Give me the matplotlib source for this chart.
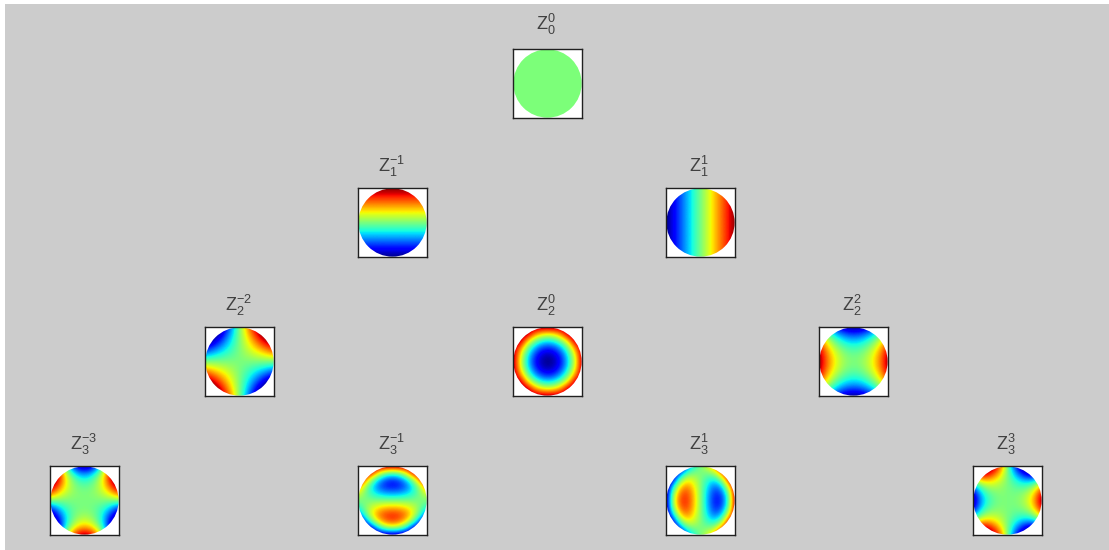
import numpy as np
import matplotlib
matplotlib.use("Agg")
import matplotlib.pyplot as plt
from matplotlib.patches import Circle, Rectangle

W, H = 1109, 550

# colour values, 0 = deep blue, 50 = green, 100 = deep red
# rows run top to bottom
z_0_0 = [[50]]

z_1_m1 = [[100], [90], [80], [70], [60], [50], [40], [30], [20], [10], [0]]

z_1_1 = [[0, 10, 20, 30, 40, 50, 60, 70, 80, 90, 100]]

z_2_m2 = [
    [0, 0, 0, 10, 30, 50, 70, 90, 100, 100, 100],
    [0, 0, 2, 18, 34, 50, 66, 82, 98, 100, 100],
    [0, 2, 14, 26, 38, 50, 62, 74, 86, 98, 100],
    [10, 18, 26, 34, 42, 50, 58, 66, 74, 82, 90],
    [30, 34, 38, 42, 46, 50, 54, 58, 62, 66, 70],
    [50, 50, 50, 50, 50, 50, 50, 50, 50, 50, 50],
    [70, 66, 62, 58, 54, 50, 46, 42, 38, 34, 30],
    [90, 82, 74, 66, 58, 50, 42, 34, 26, 18, 10],
    [100, 98, 86, 74, 62, 50, 38, 26, 14, 2, 0],
    [100, 100, 98, 82, 66, 50, 34, 18, 2, 0, 0],
    [100, 100, 100, 90, 70, 50, 30, 10, 0, 0, 0],
]

z_2_0 = [
    [100, 100, 100, 100, 100, 100, 100, 100, 100, 100, 100],
    [100, 100, 100, 80, 68, 64, 68, 80, 100, 100, 100],
    [100, 100, 72, 52, 40, 36, 40, 52, 72, 100, 100],
    [100, 80, 52, 32, 20, 16, 20, 32, 52, 80, 100],
    [100, 68, 40, 20, 8, 4, 8, 20, 40, 68, 100],
    [100, 64, 36, 16, 4, 0, 4, 16, 36, 64, 100],
    [100, 68, 40, 20, 8, 4, 8, 20, 40, 68, 100],
    [100, 80, 52, 32, 20, 16, 20, 32, 52, 80, 100],
    [100, 100, 72, 52, 40, 36, 40, 52, 72, 100, 100],
    [100, 100, 100, 80, 68, 64, 68, 80, 100, 100, 100],
    [100, 100, 100, 100, 100, 100, 100, 100, 100, 100, 100],
]

z_2_2 = [
    [50, 32, 18, 8, 2, 0, 2, 8, 18, 32, 50],
    [68, 50, 36, 26, 20, 18, 20, 26, 36, 50, 68],
    [82, 64, 50, 40, 34, 32, 34, 40, 50, 64, 82],
    [92, 74, 60, 50, 44, 42, 44, 50, 60, 74, 92],
    [98, 80, 66, 56, 50, 48, 50, 56, 66, 80, 98],
    [100, 82, 68, 58, 52, 50, 52, 58, 68, 82, 100],
    [98, 80, 66, 56, 50, 48, 50, 56, 66, 80, 98],
    [92, 74, 60, 50, 44, 42, 44, 50, 60, 74, 92],
    [82, 64, 50, 40, 34, 32, 34, 40, 50, 64, 82],
    [68, 50, 36, 26, 20, 18, 20, 26, 36, 50, 68],
    [50, 32, 18, 8, 2, 0, 2, 8, 18, 32, 50],
]

z_3_m3 = [
    [100, 96, 54, 24, 6, 0, 6, 24, 54, 96, 100],
    [100, 100, 68, 44, 29, 24, 29, 44, 68, 100, 100],
    [100, 97, 72, 54, 43, 39, 43, 54, 72, 97, 100],
    [100, 85, 68, 56, 49, 47, 49, 56, 68, 85, 100],
    [80, 69, 60, 54, 51, 50, 51, 54, 60, 69, 80],
    [50, 50, 50, 50, 50, 50, 50, 50, 50, 50, 50],
    [20, 31, 40, 46, 49, 50, 49, 46, 40, 31, 20],
    [0, 15, 32, 44, 51, 53, 51, 44, 32, 15, 0],
    [0, 3, 28, 46, 57, 61, 57, 46, 28, 3, 0],
    [0, 0, 32, 56, 71, 76, 71, 56, 32, 0, 0],
    [0, 4, 46, 76, 94, 100, 94, 76, 46, 4, 0],
]

z_3_m1 = [
    [100, 100, 100, 100, 100, 100, 100, 100, 100, 100, 100],
    [100, 100, 90, 66, 50, 45, 50, 66, 90, 100, 100],
    [100, 80, 52, 32, 20, 16, 20, 32, 52, 80, 100],
    [80, 56, 36, 22, 15, 13, 15, 22, 36, 56, 80],
    [61, 50, 40, 34, 30, 29, 30, 34, 40, 50, 61],
    [50, 50, 50, 50, 50, 50, 50, 50, 50, 50, 50],
    [39, 50, 60, 66, 70, 71, 70, 66, 60, 50, 39],
    [20, 44, 64, 78, 85, 87, 85, 78, 64, 44, 20],
    [0, 20, 48, 68, 80, 84, 80, 68, 48, 20, 0],
    [0, 0, 10, 34, 50, 55, 50, 34, 10, 0, 0],
    [0, 0, 0, 0, 0, 0, 0, 0, 0, 0, 0],
]

z_3_1 = [
    [0, 0, 0, 20, 39, 50, 61, 80, 100, 100, 100],
    [0, 0, 20, 44, 50, 50, 50, 56, 80, 100, 100],
    [0, 10, 48, 64, 60, 50, 40, 36, 52, 90, 100],
    [0, 34, 68, 78, 66, 50, 34, 22, 32, 66, 100],
    [0, 50, 80, 85, 70, 50, 30, 15, 20, 50, 100],
    [0, 55, 84, 87, 71, 50, 29, 13, 16, 45, 100],
    [0, 50, 80, 85, 70, 50, 30, 15, 20, 50, 100],
    [0, 34, 68, 78, 66, 50, 34, 22, 32, 66, 100],
    [0, 10, 48, 64, 60, 50, 40, 36, 52, 90, 100],
    [0, 0, 20, 44, 50, 50, 50, 56, 80, 100, 100],
    [0, 0, 0, 20, 39, 50, 61, 80, 100, 100, 100],
]

z_3_3 = [
    [100, 100, 100, 100, 80, 50, 20, 0, 0, 0, 0],
    [96, 100, 97, 85, 69, 50, 31, 15, 3, 0, 4],
    [54, 68, 72, 68, 60, 50, 40, 32, 28, 32, 46],
    [24, 44, 54, 56, 54, 50, 46, 44, 46, 56, 76],
    [6, 29, 43, 49, 51, 50, 49, 51, 57, 71, 94],
    [0, 24, 39, 47, 50, 50, 50, 53, 61, 76, 100],
    [6, 29, 43, 49, 51, 50, 49, 51, 57, 71, 94],
    [24, 44, 54, 56, 54, 50, 46, 44, 46, 56, 76],
    [54, 68, 72, 68, 60, 50, 40, 32, 28, 32, 46],
    [96, 100, 97, 85, 69, 50, 31, 15, 3, 0, 4],
    [100, 100, 100, 100, 80, 50, 20, 0, 0, 0, 0],
]

titles = [
    r"$\mathrm{Z}_{0}^{0}$",
    r"$\mathrm{Z}_{1}^{-1}$", r"$\mathrm{Z}_{1}^{1}$",
    r"$\mathrm{Z}_{2}^{-2}$", r"$\mathrm{Z}_{2}^{0}$", r"$\mathrm{Z}_{2}^{2}$",
    r"$\mathrm{Z}_{3}^{-3}$", r"$\mathrm{Z}_{3}^{-1}$", r"$\mathrm{Z}_{3}^{1}$", r"$\mathrm{Z}_{3}^{3}$",
]
panels = [z_0_0, z_1_m1, z_1_1, z_2_m2, z_2_0, z_2_2, z_3_m3, z_3_m1, z_3_1, z_3_3]

# box left / top edge in pixels
lefts = [513, 358, 666, 205, 513, 819, 50, 358, 666, 973]
tops = [49, 188, 188, 327, 327, 327, 466, 466, 466, 466]
BOX = 69

plt.rcParams["font.family"] = ["Liberation Sans", "DejaVu Sans"]
plt.rcParams["mathtext.fontset"] = "custom"
plt.rcParams["mathtext.rm"] = "Liberation Sans"
plt.rcParams["mathtext.it"] = "Liberation Sans:italic"

fig = plt.figure(figsize=(W / 100, H / 100), dpi=100, facecolor="white")
# grey window, the screenshot leaves a thin white strip round it
fig.add_artist(Rectangle((5 / W, 0), (W - 5) / W, (H - 4) / H, zorder=-1,
                         transform=fig.transFigure, facecolor="#cccccc", edgecolor="none"))

for vals, title, left, top in zip(panels, titles, lefts, tops):
    ax = fig.add_axes([left / W, 1 - (top + BOX) / H, BOX / W, BOX / H])
    ax.set_facecolor("white")
    arr = np.array(vals, dtype=float)
    # grid points sit on the -1..1 range, so pixels reach half a step past it
    nr, nc = arr.shape
    dx = 1 / (nc - 1) if nc > 1 else 0
    dy = 1 / (nr - 1) if nr > 1 else 0
    im = ax.imshow(arr, cmap="jet", vmin=0, vmax=100,
                   extent=(-1 - dx, 1 + dx, -1 - dy, 1 + dy), aspect="auto",
                   interpolation="bicubic")
    im.set_clip_path(Circle((0, 0.0), 0.99, transform=ax.transData))
    ax.set_xlim(-1, 1)
    ax.set_ylim(-1, 1)
    ax.set_xticks([])
    ax.set_yticks([])
    for s in ax.spines.values():
        s.set_linewidth(1.0)
        s.set_color("#202020")
    # the top title sits a little higher than the others
    title_y = 1.17 if top == 49 else 1.13
    ax.text(0.48, title_y, title, transform=ax.transAxes, ha="center", va="bottom",
            fontsize=13, color="#404040")

fig.savefig("out.png", dpi=100, facecolor=fig.get_facecolor())
